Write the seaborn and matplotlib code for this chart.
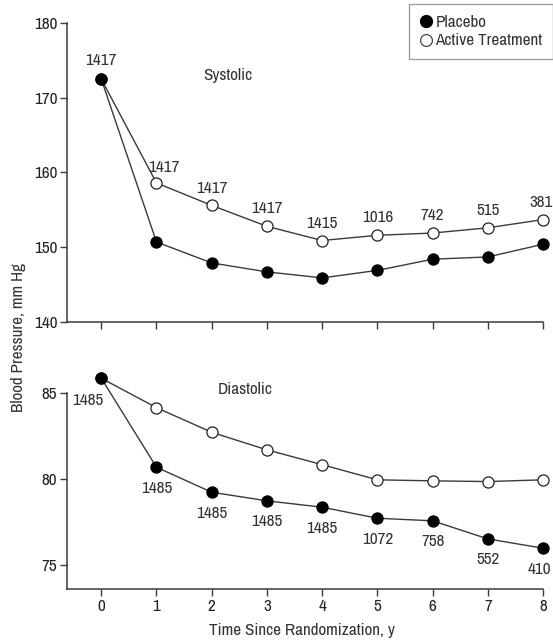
import matplotlib
matplotlib.use("Agg")
import matplotlib.pyplot as plt
import seaborn as sns
import pandas as pd
from matplotlib.lines import Line2D
from matplotlib import font_manager

years = [0, 1, 2, 3, 4, 5, 6, 7, 8]
sys_placebo = [172.5, 150.7, 147.9, 146.7, 145.9, 146.9, 148.4, 148.7, 150.4]
sys_active = [172.5, 158.6, 155.6, 152.8, 150.9, 151.6, 151.9, 152.6, 153.7]
dia_placebo = [85.84, 80.67, 79.22, 78.72, 78.35, 77.71, 77.56, 76.51, 75.97]
dia_active = [85.84, 84.13, 82.70, 81.68, 80.82, 79.94, 79.88, 79.84, 79.94]
sys_n = ["1417", "1417", "1417", "1417", "1415", "1016", "742", "515", "381"]
dia_n = ["1485", "1485", "1485", "1485", "1485", "1072", "758", "552", "410"]
sys_ticks = [140, 150, 160, 170, 180]
dia_ticks = [75, 80, 85]
series_names = ["Placebo", "Active Treatment"]

sns.set_theme(style="ticks")
names = {f.name for f in font_manager.fontManager.ttflist}
cands = ["Liberation Sans Narrow", "Arial Narrow", "Archivo Narrow", "Roboto Condensed",
         "PT Sans Narrow", "Pragati Narrow", "Liberation Sans"]
fam = [c for c in cands if c in names][0]
plt.rcParams["font.family"] = [fam, "DejaVu Sans"]
plt.rcParams["font.size"] = 12

fig = plt.figure(figsize=(5.53, 6.41), dpi=100)
ax1 = fig.add_axes([0.1212, 0.4977, 0.8608, 0.4664])
ax2 = fig.add_axes([0.1212, 0.0811, 0.8608, 0.3063])

spine_c = "#3a3a3a"
line_c = "#3a3a3a"
fs = 12.3

def draw(ax, placebo, active):
    df_a = pd.DataFrame({"x": years, "y": active})
    df_p = pd.DataFrame({"x": years, "y": placebo})
    sns.lineplot(data=df_a, x="x", y="y", ax=ax, color=line_c, lw=1.0,
                 marker="o", markersize=8, markerfacecolor="white",
                 markeredgecolor="#222222", markeredgewidth=0.9, clip_on=False, zorder=3)
    sns.lineplot(data=df_p, x="x", y="y", ax=ax, color=line_c, lw=1.0,
                 marker="o", markersize=8, markerfacecolor="black",
                 markeredgecolor="black", markeredgewidth=0.9, clip_on=False, zorder=4)
    for s in ["top", "right"]:
        ax.spines[s].set_visible(False)
    for s in ["left", "bottom"]:
        ax.spines[s].set_color(spine_c)
        ax.spines[s].set_linewidth(1.1)
    ax.tick_params(direction="out", length=5, width=1.0, color=spine_c,
                   labelsize=fs, labelcolor="#222222", pad=2)
    ax.set_xlim(-0.62, 8)
    ax.set_xticks(years)
    ax.set_xlabel("")
    ax.set_ylabel("")

draw(ax1, sys_placebo, sys_active)
ax1.set_ylim(140, 180)
ax1.set_yticks(sys_ticks)
ax1.tick_params(axis="x", labelbottom=False)
draw(ax2, dia_placebo, dia_active)
ax2.set_ylim(73.6, 85)
ax2.set_yticks(dia_ticks)

tc = "#333333"
for i, (x, y, t) in enumerate(zip(years, sys_active, sys_n)):
    off = (0, 12.5)
    if i == 0:
        off = (0, 13.7)
    elif i == 1:
        off = (5, 11)
    elif i == 8:
        off = (-1.5, 12.5)
    ax1.annotate(t, (x, y), xytext=off, textcoords="offset points",
                 ha="center", va="center", fontsize=fs, color=tc, annotation_clip=False)
for i, (x, y, t) in enumerate(zip(years, dia_placebo, dia_n)):
    off = (0, -15)
    if i == 0:
        off = (-9.5, -16)
    elif i == 8:
        off = (-3, -15)
    ax2.annotate(t, (x, y), xytext=off, textcoords="offset points",
                 ha="center", va="center", fontsize=fs, color=tc, annotation_clip=False)

ax1.text(2.30, 173.0, "Systolic", ha="center", va="center", fontsize=fs, color=tc)
ax2.text(2.61, 85.16, "Diastolic", ha="center", va="center", fontsize=fs, color=tc)

fig.text(0.033, 0.474, "Blood Pressure, mm Hg", rotation=90, ha="center", va="center",
         fontsize=fs, color=tc)
fig.text(0.546, 0.017, "Time Since Randomization, y", ha="center", va="center",
         fontsize=fs, color=tc)

handles = [
    Line2D([], [], ls="none", marker="o", markersize=8.5, markerfacecolor="black",
           markeredgecolor="black"),
    Line2D([], [], ls="none", marker="o", markersize=8.5, markerfacecolor="white",
           markeredgecolor="#444444", markeredgewidth=0.9),
]
leg = fig.legend(handles, series_names, loc="upper right", bbox_to_anchor=(1.0, 0.993),
                 frameon=True, fancybox=False, fontsize=fs, handletextpad=0.2,
                 handlelength=0.7, borderpad=0.62, labelspacing=0.2, borderaxespad=0)
leg.get_frame().set_edgecolor("#888888")
leg.get_frame().set_linewidth(1.0)
for t in leg.get_texts():
    t.set_color(tc)

fig.savefig("out.png", dpi=100)
